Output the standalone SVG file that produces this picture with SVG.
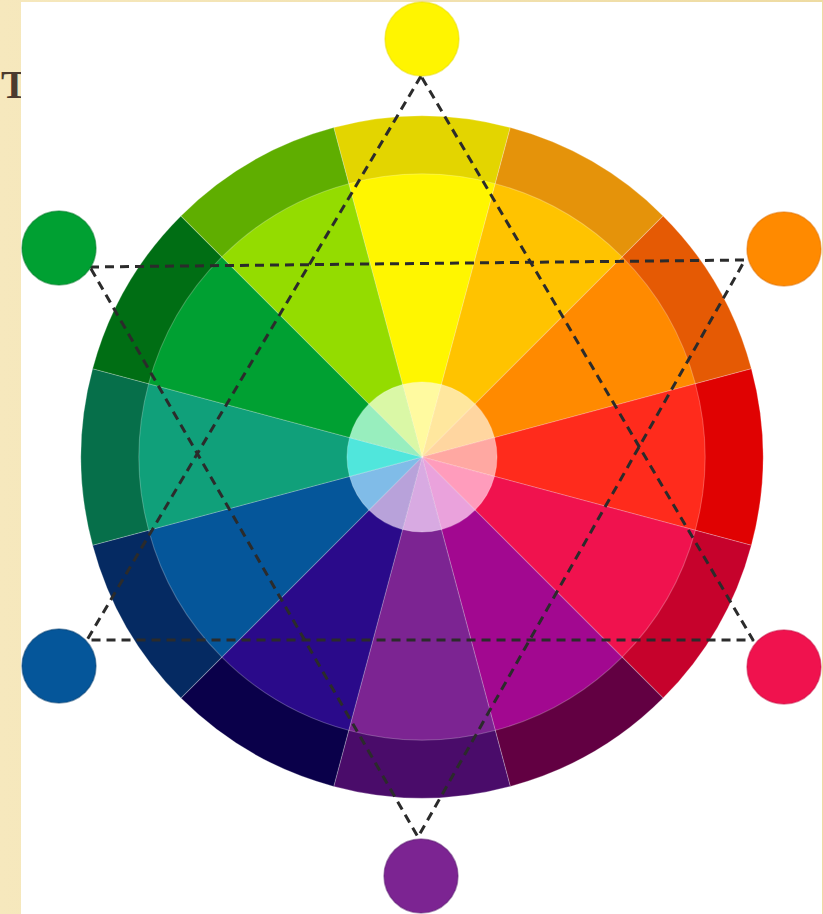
<svg xmlns="http://www.w3.org/2000/svg" xmlns:xlink="http://www.w3.org/1999/xlink" width="823" height="914" viewBox="0 0 823 914">
<style>
.dash{fill:none;stroke:#2b2b2b;stroke-width:3;stroke-dasharray:9 6;stroke-linejoin:round}
.seg{stroke:#ffffff;stroke-opacity:0.25;stroke-width:1}
.dot{stroke-width:1.5;stroke-opacity:0.5}
.title{font-family:"Liberation Serif","Times New Roman",serif;font-weight:bold;font-size:40px;fill:#4b3a2e}
</style>
<defs>
<linearGradient id="bg" x1="0" y1="0" x2="1" y2="0">
<stop offset="0" stop-color="#f6e8bd"/>
<stop offset="1" stop-color="#eedba2"/>
</linearGradient>
<path id="so" d="M0,0 L-88.257,-329.381 A341,341 0 0 1 88.257,-329.381 Z"/>
<path id="si" d="M0,0 L-73.246,-273.357 A283,283 0 0 1 73.246,-273.357 Z"/>
<path id="sc" d="M0,0 L-19.411,-72.444 A75,75 0 0 1 19.411,-72.444 Z"/>
</defs>
<rect x="0" y="0" width="823" height="914" fill="url(#bg)"/>
<text class="title" x="1" y="98">T</text>
<rect x="21" y="2" width="801" height="912" fill="#ffffff"/>

<g id="wheel" transform="translate(422,457)">
<g id="outer-ring" class="seg">
<use xlink:href="#so" fill="#e3d500"/>
<use xlink:href="#so" transform="rotate(30)" fill="#e5930a"/>
<use xlink:href="#so" transform="rotate(60)" fill="#e55a04"/>
<use xlink:href="#so" transform="rotate(90)" fill="#e00202"/>
<use xlink:href="#so" transform="rotate(120)" fill="#c6022c"/>
<use xlink:href="#so" transform="rotate(150)" fill="#620042"/>
<use xlink:href="#so" transform="rotate(180)" fill="#4a0c6a"/>
<use xlink:href="#so" transform="rotate(210)" fill="#0a004a"/>
<use xlink:href="#so" transform="rotate(240)" fill="#052a62"/>
<use xlink:href="#so" transform="rotate(270)" fill="#066f4a"/>
<use xlink:href="#so" transform="rotate(300)" fill="#006e14"/>
<use xlink:href="#so" transform="rotate(330)" fill="#5fae00"/>
</g>
<g id="inner-ring" class="seg">
<use xlink:href="#si" fill="#fff600"/>
<use xlink:href="#si" transform="rotate(30)" fill="#ffc300"/>
<use xlink:href="#si" transform="rotate(60)" fill="#ff8a00"/>
<use xlink:href="#si" transform="rotate(90)" fill="#ff2b1c"/>
<use xlink:href="#si" transform="rotate(120)" fill="#f0124e"/>
<use xlink:href="#si" transform="rotate(150)" fill="#a20890"/>
<use xlink:href="#si" transform="rotate(180)" fill="#7c2492"/>
<use xlink:href="#si" transform="rotate(210)" fill="#2a0a8a"/>
<use xlink:href="#si" transform="rotate(240)" fill="#05569a"/>
<use xlink:href="#si" transform="rotate(270)" fill="#10a07a"/>
<use xlink:href="#si" transform="rotate(300)" fill="#00a032"/>
<use xlink:href="#si" transform="rotate(330)" fill="#94dc00"/>
</g>
<g id="center-tints" class="seg">
<use xlink:href="#sc" fill="#fffaa0"/>
<use xlink:href="#sc" transform="rotate(30)" fill="#ffe79e"/>
<use xlink:href="#sc" transform="rotate(60)" fill="#ffd6a0"/>
<use xlink:href="#sc" transform="rotate(90)" fill="#ffa8a2"/>
<use xlink:href="#sc" transform="rotate(120)" fill="#ff9cbc"/>
<use xlink:href="#sc" transform="rotate(150)" fill="#eaa2dc"/>
<use xlink:href="#sc" transform="rotate(180)" fill="#d8aae2"/>
<use xlink:href="#sc" transform="rotate(210)" fill="#b8a2da"/>
<use xlink:href="#sc" transform="rotate(240)" fill="#80bce8"/>
<use xlink:href="#sc" transform="rotate(270)" fill="#50e6dc"/>
<use xlink:href="#sc" transform="rotate(300)" fill="#98eebe"/>
<use xlink:href="#sc" transform="rotate(330)" fill="#daf8a6"/>
</g>
</g>

<g id="connectors">
<polygon class="dash" points="421,76 87,640 753,640"/>
<polygon class="dash" points="90,267 745,260 418,837"/>
</g>

<g id="dot-yellow"><circle class="dot" cx="422" cy="39" r="37" fill="#fff500" stroke="#e8dc00"/></g>
<g id="dot-orange"><circle class="dot" cx="784" cy="249" r="37" fill="#ff8a00" stroke="#e07000"/></g>
<g id="dot-pink"><circle class="dot" cx="784" cy="667" r="37" fill="#f0124e" stroke="#c80a40"/></g>
<g id="dot-purple"><circle class="dot" cx="421" cy="876" r="37" fill="#7c2492" stroke="#5a1a70"/></g>
<g id="dot-blue"><circle class="dot" cx="59" cy="666" r="37" fill="#05569a" stroke="#043e70"/></g>
<g id="dot-green"><circle class="dot" cx="59" cy="248" r="37" fill="#00a032" stroke="#007a28"/></g>
</svg>
